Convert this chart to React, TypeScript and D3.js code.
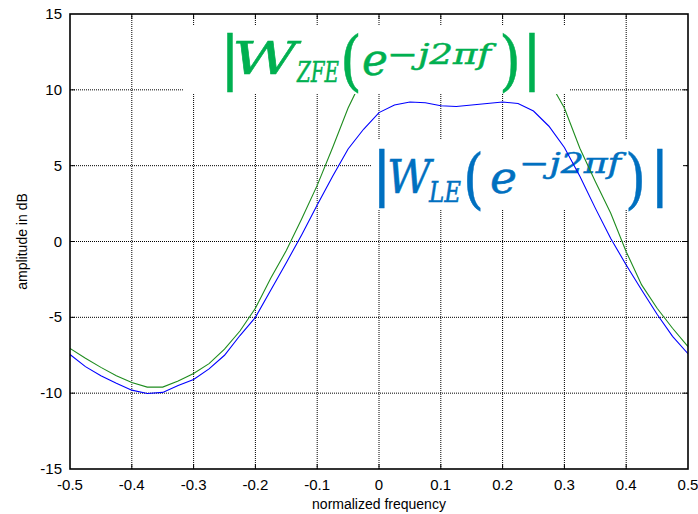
import React from "react";
import * as d3 from "d3";

const freq = [
  -0.5, -0.475, -0.45, -0.425, -0.4, -0.375, -0.35, -0.325, -0.3, -0.275, -0.25,
  -0.225, -0.2, -0.175, -0.15, -0.125, -0.1, -0.075, -0.05, -0.025, 0,
  0.025, 0.05, 0.075, 0.1, 0.125, 0.15, 0.175, 0.2, 0.225, 0.25,
  0.275, 0.3, 0.325, 0.35, 0.375, 0.4, 0.425, 0.45, 0.475, 0.5,
];
const wLE = [
  -7.45, -8.25, -8.85, -9.35, -9.8, -10.02, -9.95, -9.5, -9.1, -8.4, -7.5,
  -6.2, -5.0, -3.2, -1.4, 0.45, 2.4, 4.3, 6.1, 7.4, 8.5,
  9.0, 9.2, 9.15, 8.95, 8.9, 9.0, 9.1, 9.2, 9.1, 8.6,
  7.6, 6.2, 4.3, 2.2, 0.2, -1.55, -3.2, -4.8, -6.25, -7.4,
];
const wZFE = [
  -7.05, -7.7, -8.3, -8.85, -9.3, -9.6, -9.6, -9.2, -8.7, -8.05, -7.1,
  -5.9, -4.4, -2.4, -0.6, 1.5, 3.7, 6.2, 8.8, 10.9, 11.8,
  12.0, 12.1, 12.0, 11.8, 11.7, 11.8, 11.9, 12.0, 11.9, 11.6,
  10.6, 8.8, 6.15, 3.95, 1.86, -0.67, -2.86, -4.4, -5.72, -6.93,
];
const xTicks = [-0.5, -0.4, -0.3, -0.2, -0.1, 0, 0.1, 0.2, 0.3, 0.4, 0.5];
const yTicks = [-15, -10, -5, 0, 5, 10, 15];
const xLabel = "normalized frequency";
const yLabel = "amplitude in dB";

const W = 698;
const H = 514;
const M = { left: 70, right: 10, top: 14, bottom: 45 };

type Piece = { t: string; x: number; y: number; fs: number; w?: number; it?: boolean; sans?: boolean };

function MathLabel({ pieces, color }: { pieces: Piece[]; color: string }) {
  return (
    <text fill={color} stroke={color} strokeWidth={0.5} fontFamily="'DejaVu Serif', serif">
      {pieces.map((p, i) => (
        <tspan
          key={i}
          x={p.x}
          y={p.y}
          fontSize={p.fs}
          fontStyle={p.it ? "italic" : "normal"}
          fontFamily={p.sans ? "'DejaVu Sans', sans-serif" : undefined}
          textLength={p.w}
          lengthAdjust={p.w ? "spacingAndGlyphs" : undefined}
        >
          {p.t}
        </tspan>
      ))}
    </text>
  );
}

export default function App() {
  const x = d3.scaleLinear().domain([-0.5, 0.5]).range([M.left, W - M.right]);
  const y = d3.scaleLinear().domain([-15, 15]).range([H - M.bottom, M.top]);
  const pts = (v: number[]) => freq.map((f, i) => [f, v[i]] as [number, number]);
  const line = d3
    .line<[number, number]>()
    .x((d) => x(d[0]))
    .y((d) => y(d[1]));
  const x0 = x(-0.5), x1 = x(0.5), y0 = y(-15), y1 = y(15);
  const fmt = (v: number) => (v === 0 ? "0" : String(v));
  const tickFont = "'Liberation Sans', Arial, sans-serif";
  const green = "#00b050";
  const blue = "#0070c0";

  const zfe: Piece[] = [
    { t: "|", x: 220, y: 78, fs: 59, sans: true },
    { t: "W", x: 232, y: 74, fs: 45, it: true, w: 65 },
    { t: "ZFE", x: 297, y: 82, fs: 28, it: true, w: 42 },
    { t: "(", x: 340, y: 83, fs: 66, w: 22 },
    { t: "e", x: 362, y: 75, fs: 44, it: true, w: 26 },
    { t: "−j2πf", x: 387, y: 64, fs: 28, it: true, w: 104 },
    { t: ")", x: 499, y: 83, fs: 66, w: 22 },
    { t: "|", x: 522, y: 78, fs: 59, sans: true },
  ];
  const le: Piece[] = [
    { t: "|", x: 372, y: 194, fs: 58, sans: true },
    { t: "W", x: 387, y: 193, fs: 46, it: true, w: 44 },
    { t: "LE", x: 429, y: 202, fs: 28, it: true, w: 32 },
    { t: "(", x: 463, y: 201, fs: 66, w: 21 },
    { t: "e", x: 490, y: 193, fs: 44, it: true, w: 27 },
    { t: "−j2πf", x: 519, y: 173, fs: 28, it: true, w: 102 },
    { t: ")", x: 625, y: 201, fs: 66, w: 21 },
    { t: "|", x: 650, y: 194, fs: 58, sans: true },
  ];

  return (
    <svg width={W} height={H} style={{ position: "absolute", left: 0, top: 0, background: "#fff" }}>
      <defs>
        <clipPath id="plotclip">
          <rect x={x0} y={y1} width={x1 - x0} height={y0 - y1} />
        </clipPath>
      </defs>
      <rect x={0} y={0} width={W} height={H} fill="#fff" />
      <g stroke="#000" strokeWidth={1} strokeDasharray="1,1">
        {xTicks.slice(1, -1).map((t) => (
          <line key={"gx" + t} x1={x(t)} x2={x(t)} y1={y1} y2={y0} />
        ))}
        {yTicks.slice(1, -1).map((t) => (
          <line key={"gy" + t} x1={x0} x2={x1} y1={y(t)} y2={y(t)} />
        ))}
      </g>
      <rect x={372} y={140} width={314} height={70} fill="#fff" />
      <MathLabel pieces={le} color={blue} />
      <g clipPath="url(#plotclip)" fill="none" strokeWidth={1.1}>
        <path d={line(pts(wZFE)) || ""} stroke="#1e8c1e" />
        <path d={line(pts(wLE)) || ""} stroke="#0000ff" />
      </g>
      <rect x={183} y={25} width={387} height={69} fill="#fff" />
      <MathLabel pieces={zfe} color={green} />
      <g stroke="#000" strokeWidth={1}>
        {xTicks.slice(1, -1).map((t) => (
          <g key={"tx" + t}>
            <line x1={x(t)} x2={x(t)} y1={y0} y2={y0 - 5} />
            <line x1={x(t)} x2={x(t)} y1={y1} y2={y1 + 5} />
          </g>
        ))}
        {yTicks.slice(1, -1).map((t) => (
          <g key={"ty" + t}>
            <line x1={x0} x2={x0 + 5} y1={y(t)} y2={y(t)} />
            <line x1={x1} x2={x1 - 5} y1={y(t)} y2={y(t)} />
          </g>
        ))}
      </g>
      <rect x={x0} y={y1} width={x1 - x0} height={y0 - y1} fill="none" stroke="#000" strokeWidth={1.6} />
      <g fontFamily={tickFont} fontSize={15} fill="#000">
        {xTicks.map((t) => (
          <text key={"lx" + t} x={x(t)} y={y0 + 21} textAnchor="middle">{fmt(t)}</text>
        ))}
        {yTicks.map((t) => (
          <text key={"ly" + t} x={x0 - 8} y={y(t) + 5} textAnchor="end">{fmt(t)}</text>
        ))}
        <text x={(x0 + x1) / 2} y={H - 5} textAnchor="middle" fontSize={14}>{xLabel}</text>
        <text transform={`translate(27,${(y0 + y1) / 2}) rotate(-90)`} textAnchor="middle" fontSize={14}>{yLabel}</text>
      </g>
    </svg>
  );
}
